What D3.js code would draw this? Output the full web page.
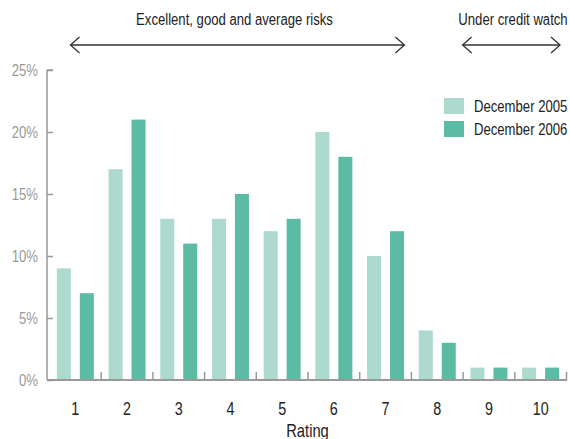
<!DOCTYPE html>
<html>
<head>
<meta charset="utf-8">
<script src="https://cdn.jsdelivr.net/npm/d3@7"></script>
<style>
  body { margin: 0; background: #fff; }
  svg text { font-family: "Liberation Sans", Arial, sans-serif; }
</style>
</head>
<body>
<svg id="chart" width="570" height="439"></svg>
<script>
const categories = ["1","2","3","4","5","6","7","8","9","10"];
const seriesNames = ["December 2005", "December 2006"];
const dec2005 = [9, 17, 13, 13, 12, 20, 10, 4, 1, 1];
const dec2006 = [7, 21, 11, 15, 13, 18, 12, 3, 1, 1];
const yTicks = [0, 5, 10, 15, 20, 25];
const groupLabels = ["Excellent, good and average risks", "Under credit watch"];
const colors = ["#aed9cf", "#5bbba5"];

const svg = d3.select("#chart");
const x = d3.scaleBand().domain(categories).range([49.5, 566.5]).paddingInner(0).paddingOuter(0);
const xs = d3.scaleBand().domain(seriesNames).range([0, x.bandwidth()]).paddingInner(0.39).paddingOuter(0.32);
const y = d3.scaleLinear().domain([0, 25]).range([380, 70]);

// narrow text helper (condensed look)
function ntext(parent, tx, ty, str, size, anchor, fill) {
  return parent.append("text")
    .attr("transform", `translate(${tx},${ty}) scale(0.82,1)`)
    .attr("text-anchor", anchor).attr("font-size", size).attr("fill", fill)
    .text(str);
}

const data = categories.map((c, i) => ({cat: c, vals: [dec2005[i], dec2006[i]]}));

// bars
const g = svg.append("g");
g.selectAll("g.cat").data(data).join("g")
  .attr("transform", d => `translate(${x(d.cat)},0)`)
  .selectAll("rect").data(d => d.vals.map((v, j) => ({v, s: seriesNames[j], j})))
  .join("rect")
  .attr("x", d => xs(d.s))
  .attr("width", xs.bandwidth())
  .attr("y", d => y(d.v))
  .attr("height", d => y(0) - y(d.v))
  .attr("fill", d => colors[d.j]);

// y axis
const yAxis = svg.append("g").attr("transform", "translate(47,0)")
  .call(d3.axisRight(y).tickValues(yTicks).tickSize(6).tickFormat(""));
yAxis.select(".domain").attr("stroke", "#999").attr("stroke-width", 1.5).attr("d", `M0,${y(25)}H6M0,${y(25)}V${y(0)}`);
yAxis.selectAll(".tick line").attr("stroke", "#999").attr("stroke-width", 1.5);
const yl = svg.append("g");
yTicks.forEach(t => ntext(yl, 38, y(t) + 5.5, t + "%", 16, "end", "#9a9a9a"));

// x axis
const bounds = categories.slice(1).map(c => x(c)).concat([x.range()[1]]);
svg.append("line").attr("x1", 47).attr("x2", x.range()[1] + 0.5)
  .attr("y1", y(0)).attr("y2", y(0)).attr("stroke", "#999").attr("stroke-width", 2);
svg.append("g").selectAll("line").data(bounds).join("line")
  .attr("x1", d => d).attr("x2", d => d)
  .attr("y1", y(0)).attr("y2", y(0) - 8)
  .attr("stroke", "#999").attr("stroke-width", 1.5);
const xl = svg.append("g");
categories.forEach(c => ntext(xl, x(c) + x.bandwidth() / 2, 415, c, 17.5, "middle", "#222"));
ntext(svg, (x.range()[0] + x.range()[1]) / 2 - 0.5, 437, "Rating", 18, "middle", "#222");

// legend
const leg = svg.append("g");
seriesNames.forEach((s, i) => {
  leg.append("rect").attr("x", 444).attr("y", 98 + i * 23).attr("width", 20).attr("height", 16).attr("fill", colors[i]);
  ntext(leg, 474, 111.5 + i * 23, s, 16, "start", "#222");
});

// group arrows
const arrows = [
  {x1: x("1") + 21, x2: x("8") - 7, label: groupLabels[0]},
  {x1: x("9") - 0.5, x2: x.range()[1] - 6.5, label: groupLabels[1]}
];
const ay = 45;
const ag = svg.append("g");
arrows.forEach(a => {
  ag.append("line").attr("x1", a.x1).attr("x2", a.x2).attr("y1", ay).attr("y2", ay)
    .attr("stroke", "#333").attr("stroke-width", 1.3);
  ag.append("path").attr("d", `M${a.x1 + 9},${ay - 8}L${a.x1},${ay}L${a.x1 + 9},${ay + 8}`)
    .attr("fill", "none").attr("stroke", "#333").attr("stroke-width", 1.3);
  ag.append("path").attr("d", `M${a.x2 - 9},${ay - 8}L${a.x2},${ay}L${a.x2 - 9},${ay + 8}`)
    .attr("fill", "none").attr("stroke", "#333").attr("stroke-width", 1.3);
});
ntext(svg, 234.5, 25, groupLabels[0], 16, "middle", "#222");
ntext(svg, 513, 25, groupLabels[1], 16, "middle", "#222");
</script>
</body>
</html>
